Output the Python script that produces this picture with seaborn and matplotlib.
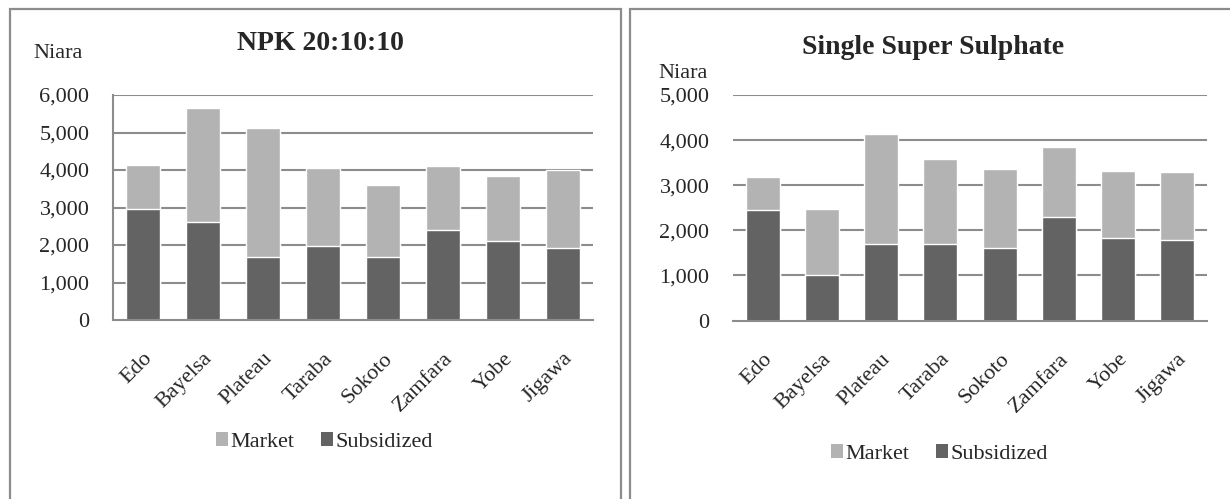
import matplotlib
matplotlib.use("Agg")
import matplotlib.pyplot as plt
from matplotlib.patches import Rectangle, Patch
from matplotlib.transforms import ScaledTranslation
import seaborn as sns
import pandas as pd

# Fertilizer prices per bag (Niara), by state
states = ["Edo", "Bayelsa", "Plateau", "Taraba", "Sokoto", "Zamfara", "Yobe", "Jigawa"]

npk_market = [4140, 5660, 5130, 4060, 3590, 4100, 3850, 3990]
npk_subsidized = [2950, 2620, 1690, 1980, 1690, 2400, 2100, 1930]

ssp_market = [3180, 2480, 4130, 3570, 3350, 3840, 3320, 3290]
ssp_subsidized = [2440, 1000, 1690, 1690, 1600, 2290, 1840, 1780]

npk_ticks = [0, 1000, 2000, 3000, 4000, 5000, 6000]
npk_ticklabels = ["0", "1,000", "2,000", "3,000", "4,000", "5,000", "6,000"]
ssp_ticks = [0, 1000, 2000, 3000, 4000, 5000]
ssp_ticklabels = ["0", "1,000", "2,000", "3,000", "4,000", "5,000"]

series_names = ["Market", "Subsidized"]
titles = ["NPK 20:10:10", "Single Super Sulphate"]
unit_label = "Niara"

MARKET_C = "#b3b3b3"
SUBS_C = "#636363"
LINE_C = "#8c8c8c"

sns.set_theme(style="white")
plt.rcParams["font.family"] = ["Liberation Serif", "DejaVu Serif"]

W, H = 1230, 499
fig = plt.figure(figsize=(W / 100, H / 100), dpi=100)


def fx(px):
    return px / W


def fy(py):
    return 1 - py / H


def panel(ax, market, subsidized, ticks, ticklabels, left_spine):
    df = pd.DataFrame({"state": states, "market": market, "subsidized": subsidized})
    sns.barplot(data=df, x="state", y="market", order=states, color=MARKET_C,
                saturation=1, width=0.57, errorbar=None, ax=ax, zorder=3)
    sns.barplot(data=df, x="state", y="subsidized", order=states, color=SUBS_C,
                saturation=1, width=0.57, errorbar=None, ax=ax, zorder=3)
    ax.set_ylim(ticks[0], ticks[-1])
    ax.set_xlim(-0.5, len(states) - 0.5)
    ax.set_yticks(ticks)
    ax.set_yticklabels(ticklabels, fontsize=16)
    ax.set_xticks(range(len(states)))
    ax.set_xticklabels(states, fontsize=16, rotation=45, ha="right",
                       rotation_mode="anchor")
    shift = ScaledTranslation(-3 / 100, 0, fig.dpi_scale_trans)
    for lbl in ax.get_xticklabels():
        lbl.set_transform(lbl.get_transform() + shift)
    ax.tick_params(axis="x", length=0, pad=21)
    ax.tick_params(axis="y", length=0, pad=17)
    ax.set_xlabel("")
    ax.set_ylabel("")
    ax.grid(False)
    for t in ticks[1:]:
        ax.axhline(t, color=LINE_C, lw=1.5, zorder=1)
    for side in ["top", "right"]:
        ax.spines[side].set_visible(False)
    ax.spines["bottom"].set_color(LINE_C)
    ax.spines["bottom"].set_linewidth(1.5)
    ax.spines["bottom"].set_zorder(4)
    if left_spine:
        ax.spines["left"].set_color(LINE_C)
        ax.spines["left"].set_linewidth(1.5)
    else:
        ax.spines["left"].set_visible(False)
    ax.set_facecolor("white")


ax1 = fig.add_axes([fx(113), fy(320), fx(593) - fx(113), fy(95) - fy(320)])
ax2 = fig.add_axes([fx(733), fy(320.5), fx(1207) - fx(733), fy(95) - fy(320.5)])

panel(ax1, npk_market, npk_subsidized, npk_ticks, npk_ticklabels, True)
panel(ax2, ssp_market, ssp_subsidized, ssp_ticks, ssp_ticklabels, False)

# panel frames
fig.patches.append(Rectangle((fx(10), -0.1), fx(621) - fx(10), fy(9) + 0.1,
                             transform=fig.transFigure, fill=False,
                             edgecolor=LINE_C, lw=1.6, zorder=0))
fig.patches.append(Rectangle((fx(630), -0.1), fx(1300) - fx(630), fy(9) + 0.1,
                             transform=fig.transFigure, fill=False,
                             edgecolor=LINE_C, lw=1.6, zorder=0))

# titles and unit labels
fig.text(fx(320), fy(43), titles[0], ha="center", va="center",
         fontsize=20, fontweight="bold")
fig.text(fx(933), fy(48), titles[1], ha="center", va="center",
         fontsize=20, fontweight="bold")
fig.text(fx(33), fy(54), unit_label, ha="left", va="center", fontsize=16)
fig.text(fx(658), fy(73), unit_label, ha="left", va="center", fontsize=16)

# legends
handles = [Patch(facecolor=MARKET_C, edgecolor="none"),
           Patch(facecolor=SUBS_C, edgecolor="none")]
for cx, cy in [(324, 442), (939, 454)]:
    fig.legend(handles, series_names, loc="center", bbox_to_anchor=(fx(cx), fy(cy)),
               ncol=2, frameon=False, fontsize=16, handlelength=0.55,
               handleheight=0.55, handletextpad=0.1, columnspacing=1.2,
               borderpad=0, borderaxespad=0)

fig.savefig("out.png", dpi=100)
